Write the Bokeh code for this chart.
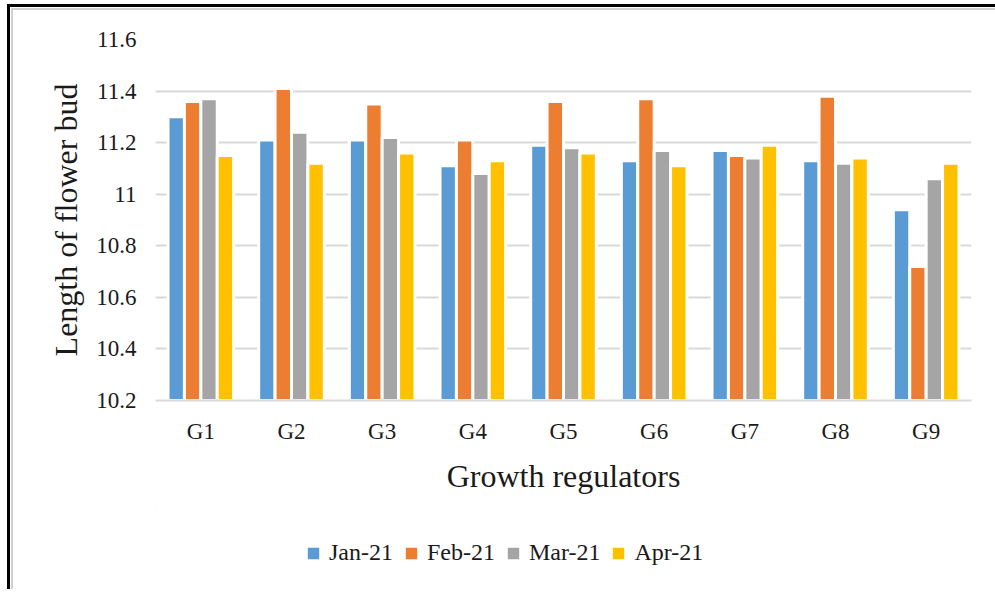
from bokeh.plotting import figure
from bokeh.models import (FactorRange, Range1d, Legend, LegendItem, FixedTicker, ColumnDataSource,
                          CustomJSTickFormatter, Div)
from bokeh.layouts import row, column
from bokeh.transform import dodge
from bokeh.embed import file_html
from bokeh.resources import INLINE

groups = ["G1", "G2", "G3", "G4", "G5", "G6", "G7", "G8", "G9"]
series_names = ["Jan-21", "Feb-21", "Mar-21", "Apr-21"]
jan = [11.30, 11.21, 11.21, 11.11, 11.19, 11.13, 11.17, 11.13, 10.94]
feb = [11.36, 11.41, 11.35, 11.21, 11.36, 11.37, 11.15, 11.38, 10.72]
mar = [11.37, 11.24, 11.22, 11.08, 11.18, 11.17, 11.14, 11.12, 11.06]
apr = [11.15, 11.12, 11.16, 11.13, 11.16, 11.11, 11.19, 11.14, 11.12]
y_ticks = [10.2, 10.4, 10.6, 10.8, 11.0, 11.2, 11.4, 11.6]

colors = ["#5B9BD5", "#ED7D31", "#A5A5A5", "#FFC000"]
cols = ["jan", "feb", "mar", "apr"]
FONT = "Liberation Serif"
W = 982

src = ColumnDataSource(dict(g=groups, jan=jan, feb=feb, mar=mar, apr=apr))

p = figure(width=W, height=500, x_range=FactorRange(*groups), y_range=Range1d(10.2, 11.6),
           output_backend="svg", toolbar_location=None,
           min_border_left=142, min_border_right=24, min_border_top=29, min_border_bottom=110)
p.outline_line_color = None
p.background_fill_color = "white"
p.border_fill_color = "white"

slot = 0.181
offsets = [-1.5 * slot, -0.5 * slot, 0.5 * slot, 1.5 * slot]
for col, off, c in zip(cols, offsets, colors):
    p.vbar(x=dodge("g", off, range=p.x_range), top=col, bottom=10.2, width=slot,
           source=src, fill_color=c, line_color="white", line_width=3)

# axes
p.yaxis.ticker = FixedTicker(ticks=y_ticks)
p.yaxis.formatter = CustomJSTickFormatter(
    code="return (Math.abs(tick - Math.round(tick)) < 1e-9) ? tick.toFixed(0) : tick.toFixed(1);")
p.yaxis.axis_line_color = None
p.yaxis.major_tick_line_color = None
p.yaxis.minor_tick_line_color = None
p.yaxis.major_tick_out = 0
p.yaxis.major_tick_in = 0
p.yaxis.minor_tick_out = 0
p.yaxis.major_label_text_font = FONT
p.yaxis.major_label_text_font_size = "23px"
p.yaxis.major_label_text_color = "#1a1a1a"
p.yaxis.major_label_standoff = 19
p.yaxis.axis_label = "Length of flower bud"
p.yaxis.axis_label_text_font = FONT
p.yaxis.axis_label_text_font_size = "32px"
p.yaxis.axis_label_text_font_style = "normal"
p.yaxis.axis_label_text_color = "#1a1a1a"
p.yaxis.axis_label_standoff = 9

p.xaxis.axis_line_color = "#d9d9d9"
p.xaxis.axis_line_width = 2
p.xaxis.major_tick_line_color = None
p.xaxis.minor_tick_line_color = None
p.xaxis.major_tick_out = 0
p.xaxis.major_tick_in = 0
p.xaxis.minor_tick_out = 0
p.xaxis.major_label_text_font = FONT
p.xaxis.major_label_text_font_size = "23px"
p.xaxis.major_label_text_color = "#1a1a1a"
p.xaxis.major_label_standoff = 18
p.xaxis.axis_label = "Growth regulators"
p.xaxis.axis_label_text_font = FONT
p.xaxis.axis_label_text_font_size = "32px"
p.xaxis.axis_label_text_font_style = "normal"
p.xaxis.axis_label_text_color = "#1a1a1a"
p.xaxis.axis_label_standoff = 11

p.xgrid.grid_line_color = None
p.ygrid.grid_line_color = "#d9d9d9"
p.ygrid.grid_line_width = 2
p.ygrid.ticker = FixedTicker(ticks=y_ticks)

# legend strip (own figure so the legend is not clipped); its renderers draw the
# same series but lie outside this strip's visible range, only their legend swatches show
lg = figure(width=W, height=72, x_range=Range1d(0, 1), y_range=Range1d(0, 1),
            x_axis_type=None, y_axis_type=None, output_backend="svg", toolbar_location=None,
            min_border_left=0, min_border_right=0, min_border_top=0, min_border_bottom=0)
lg.outline_line_color = None
lg.grid.visible = False
lg.background_fill_color = "white"
lg.border_fill_color = "white"
items = []
for n, col, c in zip(series_names, cols, colors):
    r = lg.vbar(x=-3, top=col, bottom=10.2, width=0.01, source=src,
                fill_color=c, line_color="white", line_width=3)
    items.append(LegendItem(label=n, renderers=[r]))
legend = Legend(items=items, orientation="horizontal", location=(149, 16),
                glyph_width=18, glyph_height=18, label_standoff=7, spacing=9,
                label_text_font=FONT, label_text_font_size="24px", label_text_color="#1a1a1a",
                padding=0, margin=0, border_line_color=None, background_fill_alpha=0)
lg.add_layout(legend, "center")

# frame lines of the picture (black outer, thin grey inner)
def strip(w, h, color, margin):
    return Div(text="", width=w, height=h, margin=margin,
               styles={"background-color": color})

top_black = strip(995 - 7, 3, "black", (4, 0, 0, 7))
left_black = strip(3, 582, "black", (0, 0, 0, 7))
left_grey = strip(2, 581, "#d0d0d0", (1, 0, 0, 1))
top_grey = strip(W, 2, "#d0d0d0", (1, 0, 0, 0))

layout = column(top_black,
                row(left_black, left_grey, column(top_grey, p, lg, spacing=0), spacing=0),
                spacing=0)

open("out.html", "w").write(file_html(layout, INLINE))
